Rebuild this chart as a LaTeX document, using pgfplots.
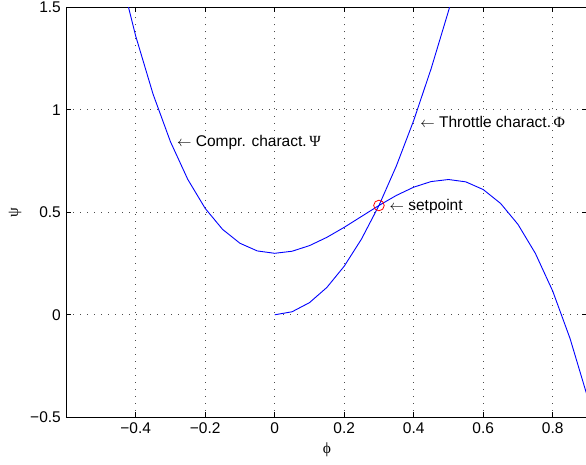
\documentclass[border=0pt]{standalone}
\usepackage{fontspec}
\setmainfont{Liberation Sans}
\newfontfamily\grk{Liberation Serif}
\usepackage{pgfplots}
\pgfplotsset{compat=1.18}
\begin{document}
\fontsize{15.5pt}{18pt}\selectfont
\begin{tikzpicture}[x=1pt,y=1pt]
\useasboundingbox (0,0) rectangle (586,464);
\begin{axis}[
  at={(66.2pt,46.7pt)}, anchor=south west,
  scale only axis, width=521.25pt, height=410pt,
  xmin=-0.6, xmax=0.9, ymin=-0.5, ymax=1.5,
  xtick={-0.4,-0.2,0,0.2,0.4,0.6,0.8},
  xticklabels={−0.4,−0.2,0,0.2,0.4,0.6,0.8},
  ytick={-0.5,0,0.5,1,1.5},
  yticklabels={−0.5,0,0.5,1,1.5},
  tick align=inside, major tick length=5pt,
  tick style={black, line width=0.7pt},
  axis line style={line width=0.8pt},
  grid=major,
  grid style={black!70, line width=0.7pt, dash pattern=on 0.8pt off 6.2pt},
  xticklabel style={font=\fontsize{15.5pt}{18pt}\selectfont},
  yticklabel style={font=\fontsize{15.5pt}{18pt}\selectfont},
  xlabel={\grk ϕ},
  ylabel={\grk ψ},
  xlabel style={at={(axis description cs:0.5,-0.0798)}, anchor=center, font=\fontsize{15.5pt}{18pt}\selectfont},
  ylabel style={at={(axis description cs:-0.0982,0.5)}, anchor=center, font=\fontsize{15.5pt}{18pt}\selectfont},
  clip=true,
]
\addplot[blue, line width=0.9pt] coordinates {
(-0.5,2.1) (-0.45,1.69968) (-0.4,1.35984) (-0.35,1.07616) (-0.3,0.84432)
(-0.25,0.66) (-0.2,0.51888) (-0.15,0.41664) (-0.1,0.34896) (-0.05,0.31152)
(0,0.3) (0.05,0.31008) (0.1,0.33744) (0.15,0.37776) (0.2,0.42672)
(0.25,0.48) (0.3,0.53328) (0.35,0.58224) (0.4,0.62256) (0.45,0.64992)
(0.5,0.66) (0.55,0.64848) (0.6,0.61104) (0.65,0.54336) (0.7,0.44112)
(0.75,0.3) (0.8,0.11568) (0.85,-0.11616) (0.9,-0.39984)
};
\addplot[blue, line width=0.9pt] coordinates {
(0,0) (0.05,0.01481) (0.1,0.05925) (0.15,0.1333) (0.2,0.237)
(0.25,0.3703) (0.3,0.5333) (0.35,0.7258) (0.4,0.948) (0.45,1.1998)
(0.5,1.4813) (0.55,1.792)
};
\addplot[red, only marks, mark=o, mark size=5.3pt, line width=0.8pt] coordinates {(0.3,0.53328)};
\node[anchor=west, inner sep=0pt, xshift=6.5pt, yshift=-1pt] at (axis cs:-0.3,0.84432) {$\leftarrow$ Compr. charact.\,{\grk Ψ}};
\node[anchor=west, inner sep=0pt, xshift=6.5pt, yshift=-1pt] at (axis cs:0.4,0.948) {$\leftarrow$ Throttle charact.\,{\grk Φ}};
\node[anchor=west, inner sep=0pt, xshift=10.5pt, yshift=-1.5pt] at (axis cs:0.3,0.53328) {$\leftarrow$ setpoint};
\end{axis}
\end{tikzpicture}
\end{document}
